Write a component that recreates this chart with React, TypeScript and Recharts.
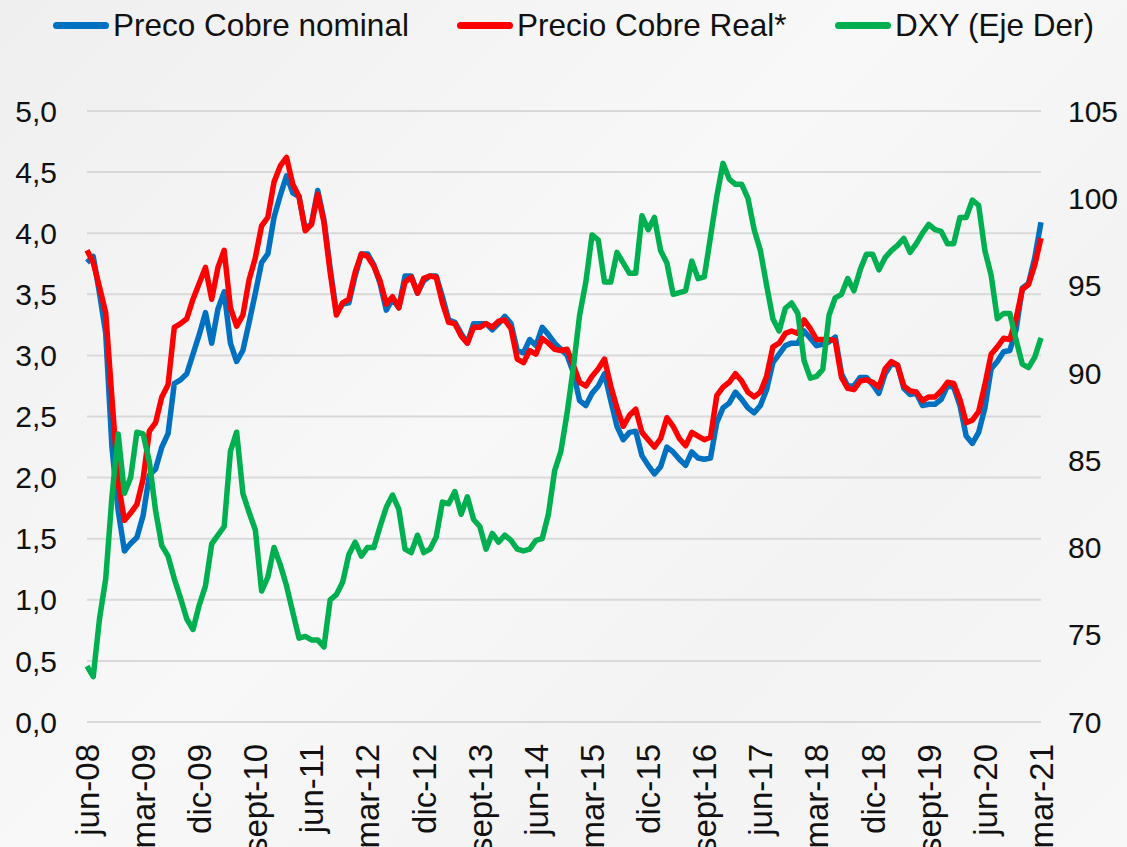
import React from 'react';
import { CartesianGrid, Line, LineChart, XAxis, YAxis } from 'recharts';

// serie mensual jun-08 .. mar-21
const START_YEAR = 2008;
const START_MONTH = 5; // junio (0 = enero)
const MESES = ['ene', 'feb', 'mar', 'abr', 'may', 'jun', 'jul', 'ago', 'sept', 'oct', 'nov', 'dic'];

const cobreNominal = [
  3.76, 3.81, 3.51, 3.18, 2.25, 1.73, 1.40, 1.46, 1.51, 1.69,
  2.02, 2.07, 2.25, 2.36, 2.77, 2.80, 2.85, 3.01, 3.17, 3.35,
  3.10, 3.38, 3.52, 3.10, 2.95, 3.04, 3.27, 3.51, 3.76, 3.83,
  4.13, 4.31, 4.47, 4.33, 4.30, 4.03, 4.08, 4.35, 4.11, 3.71,
  3.35, 3.42, 3.43, 3.65, 3.83, 3.83, 3.74, 3.59, 3.37, 3.46,
  3.39, 3.65, 3.65, 3.51, 3.61, 3.65, 3.65, 3.48, 3.29, 3.27,
  3.18, 3.10, 3.26, 3.26, 3.26, 3.21, 3.26, 3.32, 3.26, 3.04,
  3.02, 3.13, 3.08, 3.23, 3.17, 3.10, 3.05, 3.00, 2.86, 2.63,
  2.59, 2.69, 2.75, 2.85, 2.63, 2.42, 2.31, 2.37, 2.38, 2.18,
  2.10, 2.03, 2.09, 2.25, 2.21, 2.15, 2.10, 2.21, 2.16, 2.15,
  2.16, 2.45, 2.57, 2.61, 2.70, 2.64, 2.57, 2.53, 2.59, 2.72,
  2.94, 3.01, 3.08, 3.10, 3.10, 3.20, 3.14, 3.08, 3.09, 3.11,
  3.15, 2.85, 2.75, 2.75, 2.82, 2.82, 2.76, 2.69, 2.85, 2.93,
  2.92, 2.73, 2.68, 2.69, 2.59, 2.60, 2.60, 2.64, 2.75, 2.74,
  2.59, 2.34, 2.28, 2.37, 2.57, 2.89, 2.95, 3.03, 3.04, 3.21,
  3.55, 3.59, 3.80, 4.09,
];

const cobreReal = [
  3.86, 3.76, 3.56, 3.35, 2.65, 1.96, 1.65, 1.71, 1.78, 1.99,
  2.38, 2.45, 2.66, 2.76, 3.23, 3.26, 3.30, 3.46, 3.59, 3.72,
  3.46, 3.72, 3.86, 3.39, 3.24, 3.33, 3.62, 3.80, 4.06, 4.13,
  4.42, 4.55, 4.62, 4.40, 4.30, 4.02, 4.07, 4.32, 4.09, 3.68,
  3.33, 3.43, 3.46, 3.68, 3.83, 3.81, 3.73, 3.61, 3.42, 3.48,
  3.39, 3.60, 3.64, 3.51, 3.63, 3.65, 3.64, 3.43, 3.27, 3.26,
  3.16, 3.10, 3.23, 3.23, 3.26, 3.23, 3.28, 3.29, 3.22, 2.97,
  2.94, 3.04, 3.01, 3.14, 3.10, 3.05, 3.04, 3.05, 2.92, 2.78,
  2.75, 2.83, 2.89, 2.97, 2.75, 2.57, 2.42, 2.51, 2.56, 2.37,
  2.31, 2.25, 2.32, 2.49, 2.42, 2.32, 2.26, 2.37, 2.34, 2.31,
  2.33, 2.67, 2.74, 2.78, 2.85, 2.79, 2.70, 2.66, 2.70, 2.83,
  3.07, 3.10, 3.18, 3.20, 3.18, 3.29, 3.22, 3.13, 3.13, 3.13,
  3.12, 2.82, 2.73, 2.72, 2.79, 2.80, 2.78, 2.74, 2.89, 2.95,
  2.92, 2.75, 2.71, 2.70, 2.63, 2.66, 2.66, 2.71, 2.78, 2.77,
  2.64, 2.45, 2.47, 2.54, 2.76, 3.01, 3.07, 3.14, 3.13, 3.30,
  3.54, 3.58, 3.74, 3.96,
];

const dxy = [
  73.2, 72.6, 75.9, 78.2, 82.9, 86.5, 83.1, 84.0, 86.6, 86.5,
  84.9, 82.1, 80.1, 79.5, 78.2, 77.1, 75.9, 75.3, 76.7, 77.8,
  80.2, 80.7, 81.2, 85.5, 86.6, 83.1, 82.0, 81.0, 77.5, 78.3,
  80.0, 79.0, 77.8, 76.3, 74.8, 74.9, 74.7, 74.7, 74.3, 77.0,
  77.3, 78.0, 79.6, 80.3, 79.5, 80.0, 80.0, 81.2, 82.3, 83.0,
  82.2, 79.9, 79.7, 80.7, 79.7, 79.9, 80.6, 82.6, 82.5, 83.2,
  81.9, 82.9, 81.6, 81.2, 79.9, 80.8, 80.3, 80.7, 80.4, 79.9,
  79.8, 79.9, 80.4, 80.5, 81.9, 84.4, 85.5, 87.7, 90.3, 93.3,
  95.2, 97.9, 97.6, 95.2, 95.2, 96.9, 96.3, 95.7, 95.7, 99.0,
  98.2, 98.9, 97.0, 96.3, 94.5, 94.6, 94.7, 96.4, 95.4, 95.5,
  97.8, 100.1, 102.0, 101.1, 100.8, 100.8, 100.0, 98.2, 97.0, 95.0,
  93.1, 92.4, 93.7, 94.0, 93.4, 90.7, 89.7, 89.8, 90.2, 93.3,
  94.3, 94.5, 95.4, 94.7, 95.9, 96.8, 96.8, 95.9, 96.6, 97.0,
  97.3, 97.7, 96.9, 97.4, 98.0, 98.5, 98.2, 98.1, 97.4, 97.4,
  98.9, 98.9, 99.9, 99.6, 97.0, 95.6, 93.1, 93.4, 93.4, 91.9,
  90.5, 90.3, 90.9, 92.0,
];

const leftTicks = [0, 0.5, 1, 1.5, 2, 2.5, 3, 3.5, 4, 4.5, 5];
const rightTicks = [70, 75, 80, 85, 90, 95, 100, 105];

const mesLabels = cobreNominal.map((_, i) => {
  const m = START_MONTH + i;
  const yy = (START_YEAR + Math.floor(m / 12)) % 100;
  return `${MESES[m % 12]}-${String(yy).padStart(2, '0')}`;
});

const data = mesLabels.map((mes, i) => ({
  mes,
  nominal: cobreNominal[i],
  real: cobreReal[i],
  dxy: dxy[i],
}));

const FONT = '"Liberation Sans", Arial, sans-serif';
const BLUE = '#0070C0';
const RED = '#FF0000';
const GREEN = '#00B050';

const XTick = (props: any) => {
  const { x, y, payload } = props;
  const ty = y + 20;
  return (
    <text
      x={x}
      y={ty}
      transform={`rotate(-90, ${x}, ${ty})`}
      textAnchor="end"
      dy="0.36em"
      fontSize={33}
      fontFamily={FONT}
      fill="#111"
    >
      {payload.value}
    </text>
  );
};

const legendItems = [
  { label: 'Preco Cobre nominal', color: BLUE, left: 53 },
  { label: 'Precio Cobre Real*', color: RED, left: 457 },
  { label: 'DXY (Eje Der)', color: GREEN, left: 835 },
];

const App: React.FC = () => (
  <div
    style={{
      position: 'absolute',
      left: 0,
      top: 0,
      width: 1127,
      height: 847,
      overflow: 'hidden',
      background: 'linear-gradient(135deg, #efefef 0%, #f8f8f8 45%, #f3f3f3 70%, #f7f7f7 100%)',
      fontFamily: FONT,
    }}
  >
    {legendItems.map((it) => (
      <div
        key={it.label}
        style={{ position: 'absolute', left: it.left, top: 5, height: 40, display: 'flex', alignItems: 'center' }}
      >
        <div style={{ width: 56, height: 7, borderRadius: 4, background: it.color }} />
        <span style={{ marginLeft: 4, fontSize: 31.5, color: '#111', whiteSpace: 'nowrap' }}>{it.label}</span>
      </div>
    ))}
    <LineChart width={1127} height={847} data={data} margin={{ top: 111, right: 16, bottom: 0, left: 17 }}>
      <CartesianGrid yAxisId="left" vertical={false} stroke="#d9d9d9" strokeWidth={2} />
      <XAxis
        dataKey="mes"
        interval={8}
        tickLine={false}
        axisLine={false}
        tickSize={0}
        height={125}
        tick={<XTick />}
      />
      <YAxis
        yAxisId="left"
        domain={[0, 5]}
        ticks={leftTicks}
        width={70}
        axisLine={false}
        tickLine={false}
        tickSize={0}
        tickMargin={30}
        interval={0}
        tickFormatter={(v: number) => v.toFixed(1).replace('.', ',')}
        tick={{ fontSize: 30, fontFamily: FONT, fill: '#111' }}
      />
      <YAxis
        yAxisId="right"
        orientation="right"
        domain={[70, 105]}
        ticks={rightTicks}
        width={70}
        axisLine={false}
        tickLine={false}
        tickSize={0}
        tickMargin={27}
        interval={0}
        tick={{ fontSize: 30, fontFamily: FONT, fill: '#111' }}
      />
      <Line yAxisId="left" type="linear" dataKey="nominal" stroke={BLUE} strokeWidth={5.5} dot={false} strokeLinejoin="round" isAnimationActive={false} />
      <Line yAxisId="left" type="linear" dataKey="real" stroke={RED} strokeWidth={5.5} dot={false} strokeLinejoin="round" isAnimationActive={false} />
      <Line yAxisId="right" type="linear" dataKey="dxy" stroke={GREEN} strokeWidth={5.5} dot={false} strokeLinejoin="round" isAnimationActive={false} />
    </LineChart>
  </div>
);

export default App;
